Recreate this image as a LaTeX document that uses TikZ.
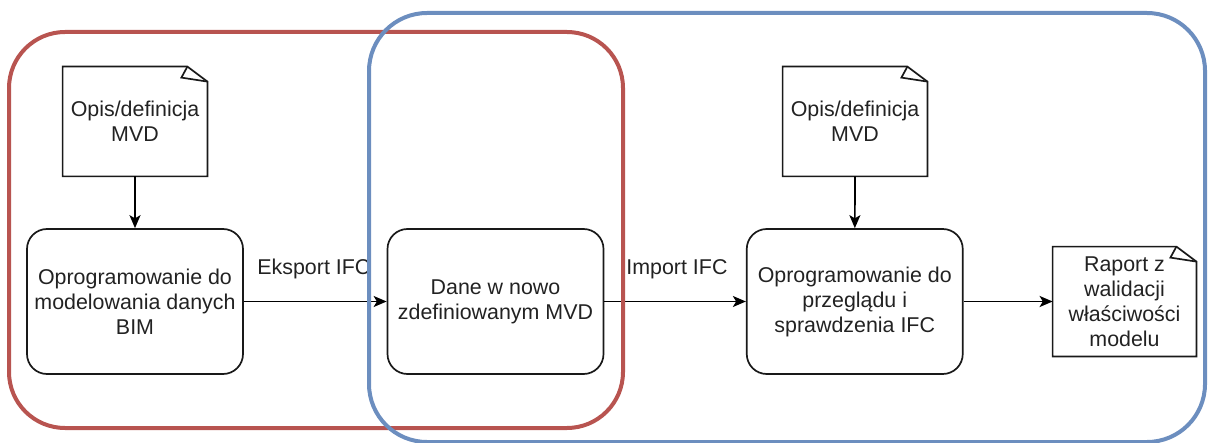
\documentclass[tikz,border=0pt]{standalone}
\usepackage{fontspec}
\setmainfont{Liberation Sans}
\usetikzlibrary{arrows.meta}
\definecolor{grpred}{HTML}{B85450}
\definecolor{grpblue}{HTML}{6C8EBF}
\definecolor{ink}{HTML}{222222}
\tikzset{
  base/.style={inner sep=0pt, align=center, text=ink,
    font=\fontsize{10.7pt}{12.5pt}\selectfont},
  procbox/.style={base, draw=black!90, line width=0.85pt, rounded corners=10pt,
    minimum width=108pt, minimum height=72.5pt},
  notebox/.style={base, minimum width=72pt, minimum height=54.5pt},
  noteline/.style={draw=black!90, line width=0.85pt, line join=miter},
  lbl/.style={base, anchor=base west},
  flow/.style={draw=black, line width=0.85pt,
    -{Stealth[length=6.5pt,width=5.5pt,inset=1.6pt]}},
  group/.style={line width=2pt, rounded corners=28pt}
}
\begin{document}
\begin{tikzpicture}[x=0.5pt,y=-0.5pt]
  \useasboundingbox (0,0) rectangle (1208,443);

  % documents
  \node[notebox] (doc1) at (135,121.5) {Opis/definicja\\MVD};
  \node[notebox] (doc2) at (855,121.5) {Opis/definicja\\MVD};
  \node[notebox, minimum width=71.5pt] (rep) at (1124.5,301.5)
    {Raport z\\walidacji\\właściwości\\modelu};
  \foreach \n in {doc1,doc2,rep} {
    \draw[noteline] (\n.north west) -- ([xshift=-10pt]\n.north east)
      -- ([yshift=-7.5pt]\n.north east) -- (\n.south east)
      -- (\n.south west) -- cycle;
    \draw[noteline] ([xshift=-10pt]\n.north east)
      -- ([xshift=-13pt,yshift=-5.5pt]\n.north east)
      -- ([yshift=-7.5pt]\n.north east);
  }

  % process steps
  \node[procbox] (bim) at (135,301.5) {Oprogramowanie do\\modelowania danych\\BIM};
  \node[procbox] (data) at (495.5,301.5) {Dane w nowo\\zdefiniowanym MVD};
  \node[procbox] (check) at (854.75,301.5) {Oprogramowanie do\\przeglądu i\\sprawdzenia IFC};

  % edge labels
  \node[lbl] (lexp) at (257,274.5) {Eksport IFC};
  \node[lbl] (limp) at (626,274.5) {Import IFC};

  % flow
  \draw[flow] (doc1) -- (bim);
  \draw[flow] (doc2) -- (check);
  \draw[flow] (bim) -- (data);
  \draw[flow] (data) -- (check);
  \draw[flow] (check) -- (rep);

  % groups
  \draw[group, draw=grpred] (9,32) rectangle (623,428);
  \draw[group, draw=grpblue, rounded corners=29pt] (369,13) rectangle (1205,442);
\end{tikzpicture}
\end{document}
